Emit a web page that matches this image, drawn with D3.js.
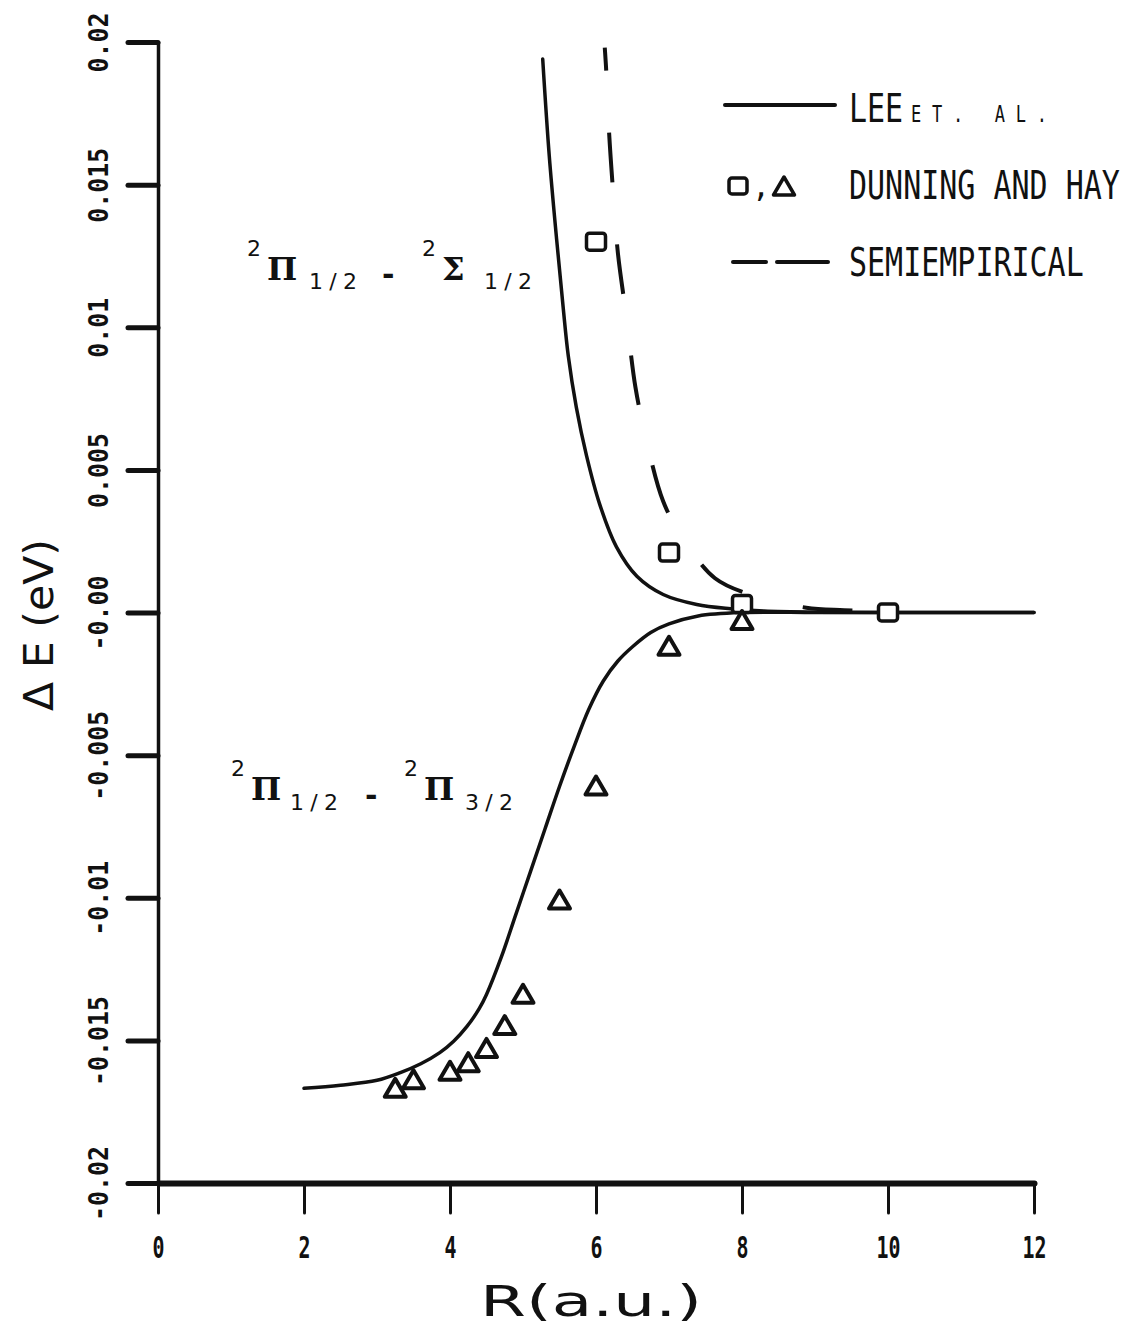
<!DOCTYPE html>
<html><head><meta charset="utf-8">
<script src="https://cdn.jsdelivr.net/npm/d3@7"></script>
<style>body{margin:0;background:#fff}</style>
</head><body>
<svg id="chart" width="1141" height="1329"></svg>
<script>
// ---- data ----
const xTicks = [0, 2, 4, 6, 8, 10, 12];
const xTickLabels = ["0", "2", "4", "6", "8", "10", "12"];
const yTicks = [0.02, 0.015, 0.01, 0.005, 0, -0.005, -0.01, -0.015, -0.02];
const yTickLabels = ["0.02", "0.015", "0.01", "0.005", "-0.00", "-0.005", "-0.01", "-0.015", "-0.02"];

// Lee et al. : 2Pi1/2 - 2Sigma1/2
const leeUpperR = [5.27, 5.36, 5.46, 5.55, 5.62, 5.73, 5.87, 6.05, 6.28, 6.56, 6.92, 7.38, 7.84, 8.3, 9, 10, 12];
const leeUpperE = [0.0194, 0.0160, 0.0131, 0.0107, 0.0090, 0.0072, 0.0055, 0.0038, 0.0023, 0.00127, 0.00063, 0.00028, 0.00013, 0.00005, 0.00001, 0, 0];
// Lee et al. : 2Pi1/2 - 2Pi3/2
const leeLowerR = [2.0, 2.5, 3.0, 3.32, 3.6, 3.86, 4.05, 4.23, 4.4, 4.5, 4.7, 4.9, 5.1, 5.3, 5.5, 5.7, 5.9, 6.1, 6.3, 6.5, 6.75, 7.0, 7.4, 8.0, 9, 10, 12];
const leeLowerE = [-0.01668, -0.01657, -0.0164, -0.01613, -0.01582, -0.01543, -0.01503, -0.01452, -0.01389, -0.01339, -0.0121, -0.0106, -0.0091, -0.0076, -0.0061, -0.0047, -0.0034, -0.0024, -0.0017, -0.0012, -0.0007, -0.0004, -0.00012, 0, 0, 0, 0];
// Semiempirical
const semiR = [6.12, 6.14, 6.18, 6.23, 6.30, 6.42, 6.54, 6.66, 6.92, 7.19, 7.63, 8.15, 8.88, 9.4, 10];
const semiE = [0.0198, 0.0190, 0.0168, 0.0149, 0.0126, 0.0103, 0.0079, 0.0064, 0.0039, 0.0026, 0.0012, 0.0006, 0.00017, 0.00008, 0.00002];
// Dunning and Hay
const squareR = [6, 7, 8, 10];
const squareE = [0.0130, 0.0021, 0.0003, 0.0];
const triR = [3.25, 3.5, 4.0, 4.25, 4.5, 4.75, 5.0, 5.5, 6.0, 7.0, 8.0];
const triE = [-0.0167, -0.0164, -0.0161, -0.0158, -0.0153, -0.0145, -0.0134, -0.0101, -0.0061, -0.0012, -0.0003];

const legendLabels = ["LEE", "DUNNING AND HAY", "SEMIEMPIRICAL"];
const legendSmall = ["ET. AL.", "", ""];

// ---- drawing ----
const svg = d3.select("#chart");
const ink = "#111";
const x = d3.scaleLinear().domain([0, 12]).range([158, 1034]);
const y = d3.scaleLinear().domain([-0.02, 0.02]).range([1183, 42]);

const line = d3.line().x(d => x(d[0])).y(d => y(d[1])).curve(d3.curveCatmullRom.alpha(0.5));
const zip = (a, b) => a.map((v, i) => [v, b[i]]);

// axes
const yAxis = d3.axisLeft(y).tickValues(yTicks).tickSize(30).tickSizeOuter(0)
  .tickFormat((d, i) => yTickLabels[i]);
const gy = svg.append("g").attr("transform", `translate(${x(0)},0)`).call(yAxis);
gy.select(".domain").attr("stroke", ink).attr("stroke-width", 3.5);
gy.selectAll(".tick line").attr("stroke", ink).attr("stroke-width", 5).attr("stroke-linecap", "round");
gy.selectAll(".tick text")
  .attr("x", null).attr("dy", null).attr("fill", ink)
  .attr("text-anchor", "middle")
  .attr("transform", "translate(-50,0) rotate(-90)")
  .style("font-family", "'DejaVu Sans Mono', monospace")
  .style("font-weight", "bold").style("font-size", "27px")
  .attr("textLength", d => yTickLabels[yTicks.indexOf(d)].length * 15)
  .attr("lengthAdjust", "spacingAndGlyphs");

const xAxis = d3.axisBottom(x).tickValues(xTicks).tickSize(30).tickSizeOuter(0)
  .tickFormat((d, i) => xTickLabels[i]);
const gx = svg.append("g").attr("transform", `translate(0,${y(-0.02)})`).call(xAxis);
gx.select(".domain").attr("stroke", ink).attr("stroke-width", 6);
gx.selectAll(".tick line").attr("stroke", ink).attr("stroke-width", 3);
gx.selectAll(".tick text")
  .attr("y", 75).attr("dy", null).attr("fill", ink)
  .style("font-family", "'DejaVu Sans Mono', monospace")
  .style("font-weight", "bold").style("font-size", "31px")
  .attr("textLength", d => xTickLabels[xTicks.indexOf(d)].length * 12)
  .attr("lengthAdjust", "spacingAndGlyphs");
svg.selectAll(".domain, .tick line").attr("stroke-linecap", "round");

// axis titles
svg.append("text")
  .attr("transform", "translate(53,625) rotate(-90)")
  .attr("text-anchor", "middle").attr("fill", ink)
  .style("font-family", "'DejaVu Sans', sans-serif").style("font-size", "40px").style("font-weight", "normal")
  .attr("textLength", 172).attr("lengthAdjust", "spacingAndGlyphs")
  .text("Δ E (eV)");
svg.append("text")
  .attr("x", 591).attr("y", 1316)
  .attr("text-anchor", "middle").attr("fill", ink)
  .style("font-family", "'DejaVu Sans', sans-serif").style("font-size", "42px").style("font-weight", "normal")
  .attr("textLength", 222).attr("lengthAdjust", "spacingAndGlyphs")
  .text("R(a.u.)");

// curves
const curveStyle = sel => sel.attr("fill", "none").attr("stroke", ink)
  .attr("stroke-width", 3.5).attr("stroke-linecap", "round").attr("stroke-linejoin", "round");
svg.append("path").datum(zip(leeUpperR, leeUpperE)).attr("d", line).call(curveStyle);
svg.append("path").datum(zip(leeLowerR, leeLowerE)).attr("d", line).call(curveStyle);
svg.append("path").datum(zip(semiR, semiE)).attr("d", line).call(curveStyle)
  .attr("stroke-width", 4).attr("stroke-linecap", "butt")
  .attr("stroke-dasharray", "50,62").attr("stroke-dashoffset", 27);

// markers
const triPath = "M0,-10 L10.5,8 L-10.5,8 Z";
svg.append("g").selectAll("rect").data(zip(squareR, squareE)).join("rect")
  .attr("x", d => x(d[0]) - 9.5).attr("y", d => y(d[1]) - 8.5)
  .attr("width", 19).attr("height", 17).attr("rx", 3)
  .attr("fill", "#fff").attr("stroke", ink).attr("stroke-width", 3.5);
svg.append("g").selectAll("path").data(zip(triR, triE)).join("path")
  .attr("transform", d => `translate(${x(d[0])},${y(d[1])})`)
  .attr("d", triPath)
  .attr("fill", "#fff").attr("stroke", ink).attr("stroke-width", 4).attr("stroke-linejoin", "round");

// legend
const legendFont = "'DejaVu Sans Mono', monospace";
const lg = svg.append("g");
lg.append("line").attr("x1", 725).attr("x2", 835).attr("y1", 105).attr("y2", 105)
  .attr("stroke", ink).attr("stroke-width", 4).attr("stroke-linecap", "round");
lg.append("rect").attr("x", 729).attr("y", 178).attr("width", 18).attr("height", 16).attr("rx", 3)
  .attr("fill", "#fff").attr("stroke", ink).attr("stroke-width", 3.5);
lg.append("text").attr("x", 752).attr("y", 197).attr("fill", ink)
  .style("font-family", legendFont).style("font-size", "30px").text(",");
lg.append("path").attr("transform", "translate(784,187)").attr("d", triPath)
  .attr("fill", "#fff").attr("stroke", ink).attr("stroke-width", 3.5).attr("stroke-linejoin", "round");
lg.append("line").attr("x1", 733).attr("x2", 766).attr("y1", 262).attr("y2", 262)
  .attr("stroke", ink).attr("stroke-width", 4).attr("stroke-linecap", "round");
lg.append("line").attr("x1", 777).attr("x2", 828).attr("y1", 262).attr("y2", 262)
  .attr("stroke", ink).attr("stroke-width", 4).attr("stroke-linecap", "round");

const legendY = [122, 199, 276];
legendLabels.forEach((lab, i) => {
  const t = lg.append("text")
    .attr("transform", `translate(849,${legendY[i]}) scale(1,1.3)`)
    .attr("fill", ink)
    .style("font-family", legendFont).style("font-size", "30px");
  t.append("tspan").attr("x", 0).text(lab);
  if (legendSmall[i]) {
    t.append("tspan").attr("x", 62).style("font-size", "17px")
      .attr("textLength", 136).attr("lengthAdjust", "spacing")
      .text(legendSmall[i]);
  }
});

// state annotations
const annFont = "'DejaVu Sans', sans-serif";
function term(g, px, py, sup, sym) {
  g.append("text").attr("x", px).attr("y", py - 24).attr("fill", ink)
    .style("font-family", annFont).style("font-size", "22px").text(sup);
  g.append("text").attr("x", px + 20).attr("y", py).attr("fill", ink)
    .style("font-family", "'DejaVu Serif', serif").style("font-size", "32px").style("font-weight", "bold").text(sym);
}
function sub(g, px, py, s) {
  g.append("text").attr("x", px).attr("y", py).attr("fill", ink)
    .style("font-family", annFont).style("font-size", "22px")
    .attr("textLength", 48).attr("lengthAdjust", "spacing").text(s);
}
function dash(g, px, py) {
  g.append("text").attr("x", px).attr("y", py).attr("fill", ink)
    .style("font-family", annFont).style("font-size", "30px").style("font-weight", "bold").text("-");
}
const a1 = svg.append("g");
term(a1, 247, 280, "2", "Π");
sub(a1, 309, 289, "1/2");
dash(a1, 382, 285);
term(a1, 422, 280, "2", "Σ");
sub(a1, 484, 289, "1/2");

const a2 = svg.append("g");
term(a2, 231, 800, "2", "Π");
sub(a2, 290, 810, "1/2");
dash(a2, 365, 806);
term(a2, 404, 800, "2", "Π");
sub(a2, 465, 810, "3/2");
</script>
</body></html>
